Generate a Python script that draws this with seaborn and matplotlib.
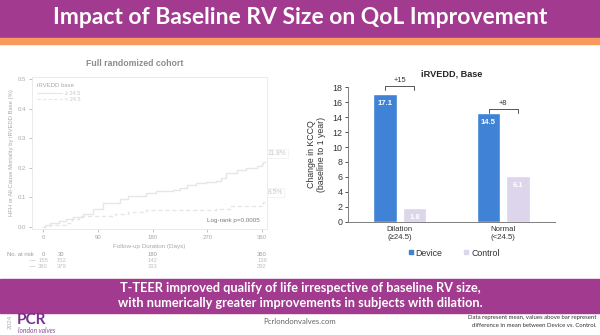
import numpy as np
import pandas as pd
import matplotlib
matplotlib.use("Agg")
import matplotlib.pyplot as plt
from matplotlib.patches import Rectangle
from matplotlib.lines import Line2D
import seaborn as sns

# ---------------- data ----------------
km_solid_days = [0, 3, 11, 27, 38, 50, 66, 82, 99, 121, 126, 140, 159, 170, 186, 214, 225, 236, 252, 268, 285, 293, 301, 318, 334, 351, 359, 362, 365]
km_solid_risk = [0, 0.006, 0.014, 0.02, 0.028, 0.035, 0.045, 0.062, 0.08, 0.08, 0.096, 0.105, 0.105, 0.115, 0.121, 0.124, 0.133, 0.141, 0.147, 0.153, 0.156, 0.166, 0.181, 0.192, 0.201, 0.206, 0.213, 0.218, 0.218]
km_dash_days = [0, 3, 11, 38, 47, 60, 93, 118, 140, 170, 258, 285, 307, 356, 362, 365]
km_dash_risk = [0, 0.002, 0.008, 0.014, 0.028, 0.036, 0.037, 0.045, 0.051, 0.057, 0.059, 0.062, 0.07, 0.07, 0.085, 0.085]
km_end_labels = ["21.8%", "8.5%"]
km_xticks = [0, 90, 180, 270, 360]
km_yticks = [0.0, 0.1, 0.2, 0.3, 0.4, 0.5]
risk_times = [0, 30, 180, 360]
risk_dilated = [155, 152, 142, 136]
risk_normal = [380, 379, 333, 292]

groups = ["Dilation\n(\u226524.5)", "Normal\n(<24.5)"]
device_vals = [17.1, 14.5]
control_vals = [1.8, 6.1]
diff_labels = ["+15", "+8"]
bar_yticks = list(range(0, 19, 2))

# ---------------- helpers ----------------
W, H = 600, 335
def fx(x): return x / W
def fy(y): return 1 - y / H

sns.set_theme(style="white")
plt.rcParams['font.family'] = ['Liberation Sans', 'DejaVu Sans']

PURPLE = "#A23B8F"
ORANGE = "#F89A5C"
BLUE = "#3F82D6"
LAV = "#DCD5EB"
FAINT = "#e6e6e6"
KMTXT = "#a8a8a8"

fig = plt.figure(figsize=(6, 3.35), dpi=100)
fig.patch.set_facecolor("white")

# title bar
fig.add_artist(Rectangle((0, fy(38)), 1, 38 / H, transform=fig.transFigure, color=PURPLE, zorder=0))
fig.add_artist(Rectangle((0, fy(44)), 1, 6 / H, transform=fig.transFigure, color=ORANGE, zorder=0))
fig.text(0.5, fy(18), "Impact of Baseline RV Size on QoL Improvement", ha="center", va="center",
         color="white", fontsize=16.5, fontweight="bold", family=["Lato", "DejaVu Sans"])

# ---------------- KM panel ----------------
axk = fig.add_axes([fx(32), fy(229), (267 - 32) / W, (229 - 77) / H])
km_df = pd.concat([
    pd.DataFrame({"day": km_solid_days, "risk": km_solid_risk, "grp": "\u2265 24.5"}),
    pd.DataFrame({"day": km_dash_days, "risk": km_dash_risk, "grp": "< 24.5"}),
])
sns.lineplot(data=km_df[km_df.grp == "\u2265 24.5"], x="day", y="risk", ax=axk, color=FAINT,
             lw=1.0, drawstyle="steps-post", estimator=None)
sns.lineplot(data=km_df[km_df.grp == "< 24.5"], x="day", y="risk", ax=axk, color=FAINT,
             lw=1.0, ls=(0, (3, 2)), drawstyle="steps-post", estimator=None)
axk.set_xlim(-18, 368)
axk.set_ylim(-0.0068, 0.5068)
axk.set_xticks(km_xticks)
axk.set_yticks(km_yticks)
axk.set_xticklabels([str(t) for t in km_xticks])
axk.set_yticklabels([f"{t:.1f}" for t in km_yticks])
axk.tick_params(labelsize=4.3, colors=KMTXT, length=2, width=0.5, pad=2)
axk.tick_params(axis="both", which="both", bottom=True, left=True)
for s in axk.spines.values():
    s.set_color("#e8e8e8"); s.set_linewidth(0.6)
axk.set_xlabel("Follow-up Duration (Days)", fontsize=4.5, color=KMTXT, labelpad=3)
axk.set_ylabel("HFH or All-Cause Mortality by iRVEDD Base (%)", fontsize=4.2, color=KMTXT, labelpad=3)
for d, lab, v in [(km_solid_days[-1], km_end_labels[0], km_solid_risk[-1]),
                  (km_dash_days[-1], km_end_labels[1], km_dash_risk[-1])]:
    axk.annotate(lab, (d, v), xytext=(2, 4), textcoords="offset points", fontsize=4.8, color="#c8c8c8",
                 ha="left", va="bottom", annotation_clip=False,
                 bbox=dict(boxstyle="square,pad=0.15", fc="white", ec="#eeeeee", lw=0.5))
axk.text(0.97, 0.04, "Log-rank p=0.0005", transform=axk.transAxes, ha="right", va="bottom",
         fontsize=4.5, color="#7a7a7a")
# legend inside
axk.text(0.02, 0.96, "iRVEDD base", transform=axk.transAxes, ha="left", va="top", fontsize=4.3, color=KMTXT)
leg_handles = [Line2D([], [], color=FAINT, lw=0.8), Line2D([], [], color=FAINT, lw=0.8, ls=(0, (3, 2)))]
axk.legend(leg_handles, ["\u2265 24.5", "< 24.5"], loc="upper left", bbox_to_anchor=(0.01, 0.925),
           frameon=False, fontsize=4.0, labelcolor="#c8c8c8", handlelength=4.5, handletextpad=0.5,
           labelspacing=0.1, borderpad=0)
fig.text(fx(135), fy(63), "Full randomized cohort", ha="center", va="center", fontsize=6.3,
         fontweight="bold", color="#8c8c8c")

# numbers at risk
x_of = lambda d: 43 + d * (219 / 360)
fig.text(fx(7), fy(254), "No. at risk", ha="left", va="center", fontsize=4.2, color="#9a9a9a")
for d in risk_times:
    fig.text(fx(x_of(d)), fy(254), str(d), ha="center", va="center", fontsize=4.2, color="#9a9a9a")
for row, yy in [(risk_dilated, 260), (risk_normal, 266)]:
    fig.add_artist(Line2D([fx(29), fx(35)], [fy(yy), fy(yy)], color="#d0d0d0", lw=0.5,
                          transform=fig.transFigure))
    for d, n in zip(risk_times, row):
        fig.text(fx(x_of(d)), fy(yy), str(n), ha="center", va="center",
                 fontsize=4.2, color="#c0c0c0")

# ---------------- bar panel ----------------
axb = fig.add_axes([fx(348), fy(221.7), (555 - 348) / W, (221.7 - 87.3) / H])
bar_df = pd.DataFrame({
    "group": groups * 2,
    "arm": ["Device"] * 2 + ["Control"] * 2,
    "value": device_vals + control_vals,
})
sns.barplot(data=bar_df, x="group", y="value", hue="arm", hue_order=["Device", "Control"],
            palette=[BLUE, LAV], width=0.57, gap=0.2, ax=axb, legend=False, saturation=1)
axb.set_xlim(-0.5, 1.5)
axb.set_ylim(0, 18)
axb.set_yticks(bar_yticks)
axb.tick_params(axis="y", labelsize=6.4, colors="#333333", length=2, width=0.6, pad=2, left=True)
axb.tick_params(axis="x", labelsize=5.6, colors="#333333", length=0, pad=3)
for s in ["top", "right"]:
    axb.spines[s].set_visible(False)
for s in ["left", "bottom"]:
    axb.spines[s].set_color("#7f7f7f"); axb.spines[s].set_linewidth(0.7)
axb.set_xlabel("")
axb.set_ylabel("Change in KCCQ\n(baseline to 1 year)", fontsize=6.3, color="#333333", labelpad=5,
               linespacing=1.1)
for cont, vals in zip(axb.containers, [device_vals, control_vals]):
    axb.bar_label(cont, labels=[f"{v:.1f}" for v in vals], label_type="edge", padding=-9,
                  color="white", fontsize=5.6, fontweight="bold")
axb.set_title("iRVEDD, Base", fontsize=6.6, fontweight="bold", color="#262626", pad=8)

# difference brackets
dev_bars = axb.containers[0].patches
ctl_bars = axb.containers[1].patches
bracket_y = [18.17, 15.1]
for i, (b1, b2) in enumerate(zip(dev_bars, ctl_bars)):
    x1 = b1.get_x() + b1.get_width() / 2
    x2 = b2.get_x() + b2.get_width() / 2
    yb = bracket_y[i]
    axb.plot([x1, x1, x2, x2], [yb - 0.55, yb, yb, yb - 0.55], color="#555555", lw=0.7, clip_on=False)
    axb.text((x1 + x2) / 2, yb + 0.25, diff_labels[i], ha="center", va="bottom", fontsize=5.4,
             color="#333333", clip_on=False)

# legend
lh = [Line2D([], [], marker="s", ls="", color=BLUE, markersize=3.2),
      Line2D([], [], marker="s", ls="", color=LAV, markersize=3.2)]
fig.legend(lh, ["Device", "Control"], loc="center", bbox_to_anchor=(fx(453), fy(253)), ncol=2,
           frameon=False, fontsize=6.3, handletextpad=0.1, columnspacing=2.2, handlelength=1.0,
           labelcolor="#333333")

# ---------------- bottom banner ----------------
fig.add_artist(Rectangle((0, fy(313)), 1, 34 / H, transform=fig.transFigure, color=PURPLE, zorder=0))
fig.text(0.5, fy(288), "T-TEER improved qualify of life irrespective of baseline RV size,", ha="center",
         va="center", color="white", fontsize=9.2, fontweight="bold", family=["Lato", "DejaVu Sans"])
fig.text(0.5, fy(303), "with numerically greater improvements in subjects with dilation.", ha="center",
         va="center", color="white", fontsize=9.2, fontweight="bold", family=["Lato", "DejaVu Sans"])

# footer
fig.text(fx(17), fy(319.5), "PCR", ha="left", va="center", fontsize=11, fontweight="bold",
         color="#7A2E8E", family=["Lato", "DejaVu Sans"])
fig.text(fx(18), fy(330.5), "london valves", ha="left", va="center", fontsize=4.8, style="italic",
         color="#8A4C9C", family=["Lato", "DejaVu Sans"])
fig.text(fx(10.5), fy(322), "2024", ha="center", va="center", rotation=90, fontsize=4.6,
         color="#B9A3C8")
fig.text(fx(300), fy(321), "Pcrlondonvalves.com", ha="center", va="center", fontsize=5.6,
         color="#666666", family=["Lato", "DejaVu Sans"])
fig.text(fx(596), fy(317.5), "Data represent mean, values above bar represent", ha="right", va="center",
         fontsize=4.3, color="#333333", family=["Lato", "DejaVu Sans"])
fig.text(fx(596), fy(325.5), "difference in mean between Device vs. Control.", ha="right", va="center",
         fontsize=4.3, color="#333333", family=["Lato", "DejaVu Sans"])

fig.savefig("out.png", dpi=100, facecolor="white")
